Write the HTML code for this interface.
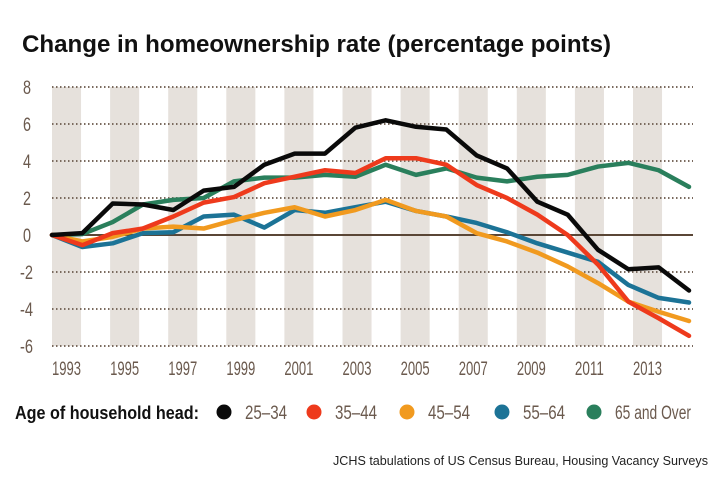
<!DOCTYPE html>
<html><head><meta charset="utf-8"><style>
html,body{margin:0;padding:0;background:#fff;}
svg{display:block;}
.tk{font-family:"Liberation Sans",sans-serif;fill:#6b5a4e;font-size:19px;}
</style></head><body>
<svg id="chart" width="725" height="490" viewBox="0 0 725 490" xmlns="http://www.w3.org/2000/svg">
<rect x="0" y="0" width="725" height="490" fill="#fff"/>
<text x="22" y="52" font-family="Liberation Sans, sans-serif" font-weight="bold" font-size="24" fill="#111" textLength="589" lengthAdjust="spacingAndGlyphs">Change in homeownership rate (percentage points)</text>
<g id="stripes"></g><g id="grid"></g><g id="series"></g><g id="axes"></g>
<g>
<text x="15" y="419" font-family="Liberation Sans, sans-serif" font-weight="bold" font-size="18" fill="#111" textLength="184" lengthAdjust="spacingAndGlyphs">Age of household head:</text>
<g id="legend-items"></g>
</g>
<text x="708" y="465" text-anchor="end" font-family="Liberation Sans, sans-serif" font-size="13" fill="#222" textLength="375" lengthAdjust="spacingAndGlyphs">JCHS tabulations of US Census Bureau, Housing Vacancy Surveys</text>
</svg>
<script>
const years = [1993,1994,1995,1996,1997,1998,1999,2000,2001,2002,2003,2004,2005,2006,2007,2008,2009,2010,2011,2012,2013,2014];
const s2534 = [0,0.1,1.7,1.65,1.35,2.4,2.6,3.8,4.4,4.4,5.8,6.2,5.85,5.7,4.3,3.6,1.8,1.1,-0.8,-1.85,-1.75,-3.0];
const s3544 = [0,-0.55,0.1,0.35,1.0,1.75,2.05,2.8,3.15,3.5,3.35,4.15,4.15,3.8,2.7,2.0,1.1,0.0,-1.6,-3.6,-4.5,-5.45];
const s4554 = [0,-0.35,-0.1,0.35,0.45,0.35,0.8,1.2,1.5,1.0,1.35,1.9,1.3,1.0,0.1,-0.35,-0.95,-1.7,-2.6,-3.6,-4.15,-4.65];
const s5564 = [0,-0.65,-0.45,0.1,0.15,1.0,1.1,0.4,1.35,1.2,1.5,1.8,1.3,1.0,0.65,0.15,-0.45,-0.95,-1.45,-2.7,-3.4,-3.65];
const s65 = [0,0.05,0.7,1.65,1.9,2.0,2.9,3.1,3.1,3.25,3.15,3.8,3.25,3.6,3.1,2.9,3.15,3.25,3.7,3.9,3.5,2.6];
const seriesNames = ["25–34","35–44","45–54","55–64","65 and Over"];
const seriesColors = ["#0a0a0a","#ee3a1c","#f19a1f","#1c7396","#2a7f5c"];
const yTicks = [8,6,4,2,0,-2,-4,-6];
const xTickLabels = [1993,1995,1997,1999,2001,2003,2005,2007,2009,2011,2013];

const NS="http://www.w3.org/2000/svg";
const X0=52,X1=689,Y0=235,PPU=18.5;
const x=yr=>X0+(yr-years[0])*(X1-X0)/(years[years.length-1]-years[0]);
const y=v=>Y0-v*PPU;
const stripeW=29.05;
const sx=yr=>X0+(yr-1993)*stripeW;
function mk(t,a,p){const e=document.createElementNS(NS,t);for(const k in a)e.setAttribute(k,a[k]);p.appendChild(e);return e;}
const gS=document.getElementById('stripes'),gG=document.getElementById('grid'),gSe=document.getElementById('series'),gA=document.getElementById('axes'),gL=document.getElementById('legend-items');
xTickLabels.forEach(yr=>{
  const r=mk('rect',{x:sx(yr),y:y(8),width:stripeW,height:y(-6)-y(8),fill:'#e6e1dc'},gS);
  
  
  const t=mk('text',{x:sx(yr)+stripeW/2,y:375,'text-anchor':'middle',class:'tk',textLength:29,lengthAdjust:'spacingAndGlyphs'},gA);
  
  
  t.textContent=yr;
});
yTicks.forEach(v=>{
  if(v!==0){const l=mk('line',{x1:X0,x2:693,y1:y(v),y2:y(v),stroke:'#7a6a5e','stroke-width':2,'stroke-dasharray':'1.5 2.5'},gG);
  
  }
  const a={x:33,y:y(v)+7,'text-anchor':'end',class:'tk'};
  if(v<0){a.textLength=13;a.lengthAdjust='spacingAndGlyphs';}
  else{a.textLength=8;a.lengthAdjust='spacingAndGlyphs';a.x=31;}
  const t=mk('text',a,gA);
  
  
  t.textContent=v;
});
const z=mk('line',{x1:X0,x2:693,y1:y(0),y2:y(0),stroke:'#5a4636','stroke-width':2},gG);


const all=[s65,s5564,s4554,s3544,s2534],idx=[4,3,2,1,0];
all.forEach((d,i)=>{
  const k=idx[i];
  const p=mk('polyline',{points:d.map((v,j)=>x(years[j])+','+y(v)).join(' '),fill:'none',stroke:seriesColors[k],'stroke-width':4.5,'stroke-linejoin':'round','stroke-linecap':'round'},gSe);
  
  
});
const lx=[224,314,407,502,594];
const lw=[42,42,42,42,76];
seriesNames.forEach((n,i)=>{
  const c=mk('circle',{cx:lx[i],cy:412,r:7.5,fill:seriesColors[i]},gL);
  
  
  const t=mk('text',{x:lx[i]+21,y:419,class:'tk',textLength:lw[i],lengthAdjust:'spacingAndGlyphs'},gL);
  
  
  t.textContent=n;
});
</script>
</body></html>
